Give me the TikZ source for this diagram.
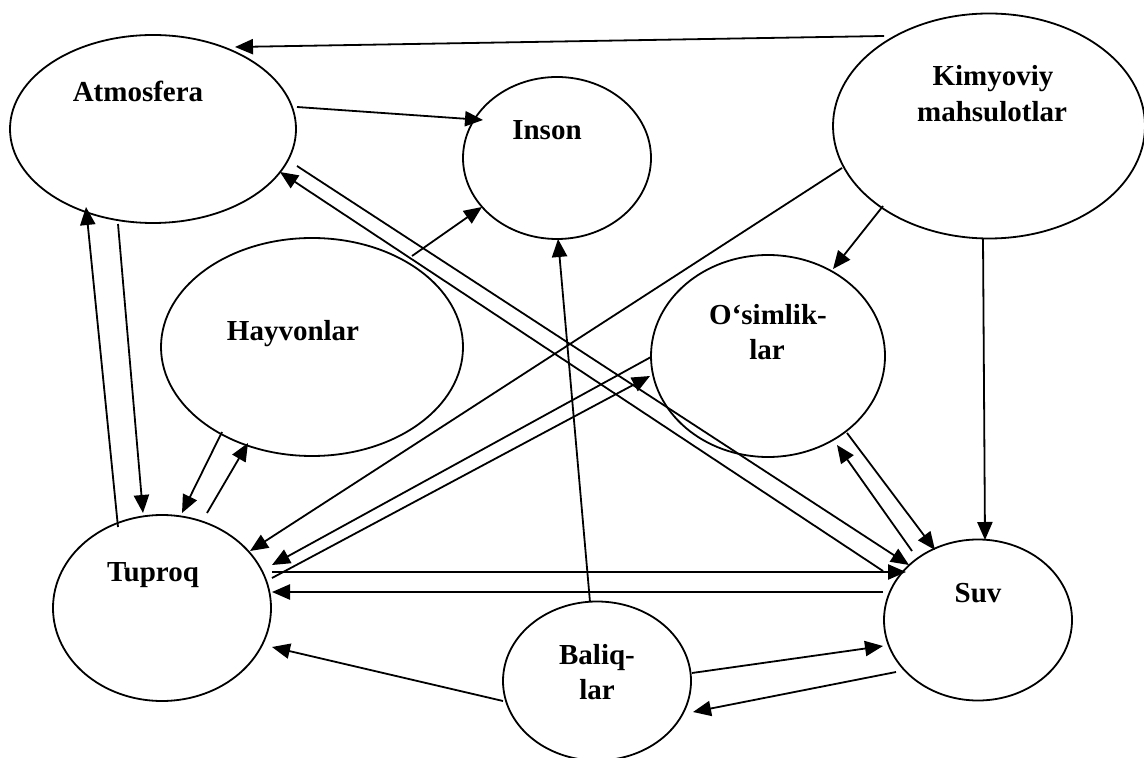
\documentclass[tikz,border=0pt]{standalone}
\usepackage{fontspec}
\setmainfont{Liberation Serif}
\usetikzlibrary{shapes.geometric,arrows.meta,calc}
\begin{document}
\begin{tikzpicture}[x=0.5pt,y=-0.5pt,
  ell/.style={ellipse,draw,line width=0.9pt,inner sep=0pt,outer sep=0pt},
  lbl/.style={anchor=base,inner sep=0pt,font=\fontsize{14.5}{17.7}\selectfont\bfseries},
  con/.style={line width=0.9pt,-{Triangle[length=9pt,width=7.6pt]}}]
\useasboundingbox (0,0) rectangle (1144,758);
% ellipses
\node[ell,minimum width=143pt,minimum height=94pt] (atm) at (153,129) {};
\node[ell,minimum width=94pt,minimum height=81pt] (ins) at (557,158) {};
\node[ell,minimum width=156pt,minimum height=112.5pt] (kim) at (989,126) {};
\node[ell,minimum width=151pt,minimum height=109pt] (hay) at (312,347) {};
\node[ell,minimum width=117pt,minimum height=101pt] (osi) at (768,356) {};
\node[ell,minimum width=109pt,minimum height=93pt] (tup) at (162,608) {};
\node[ell,minimum width=94pt,minimum height=79.5pt] (bal) at (597,681) {};
\node[ell,minimum width=94pt,minimum height=80.5pt] (suv) at (978,620) {};
% labels
\node[lbl] (tatm) at (138,101.7) {Atmosfera};
\node[lbl] (tins) at (547,140) {Inson};
\node[lbl] (tkim1) at (993,86) {Kimyoviy};
\node[lbl] (tkim2) at (992,121.7) {mahsulotlar};
\node[lbl] (thay) at (293,340.7) {Hayvonlar};
\node[lbl] (tosi1) at (768,324.3) {O‘simlik-};
\node[lbl] (tosi2) at (767,359.3) {lar};
\node[lbl] (ttup) at (153,581) {Tuproq};
\node[lbl] (tsuv) at (978,602.3) {Suv};
\node[lbl] (tbal1) at (597,664) {Baliq-};
\node[lbl] (tbal2) at (597,699.3) {lar};
% connectors
\draw[con] ($(kim)+(-105,-90)$) -- ($(atm)+(82,-82)$);
\draw[con] ($(atm)+(144,-22)$) -- ($(ins)+(-74,-38)$);
\draw[con] ($(atm)+(144,37)$) -- ($(suv)+(-69,-55)$);
\draw[con] ($(suv)+(-95,-49)$) -- ($(atm)+(127,43)$);
\draw[con] ($(osi)+(79,77)$) -- ($(suv)+(-43,-70)$);
\draw[con] ($(suv)+(-66,-69)$) -- ($(osi)+(69,89)$);
\draw[con] ($(kim)+(-6,113)$) -- ($(suv)+(7,-80)$);
\draw[con] ($(kim)+(-106,80)$) -- ($(osi)+(65,-87)$);
\draw[con] ($(kim)+(-147,42)$) -- ($(tup)+(88,-57)$);
\draw[con] ($(osi)+(-117,1)$) -- ($(tup)+(110,-43)$);
\draw[con] ($(tup)+(110,-30)$) -- ($(osi)+(-118,20)$);
\draw[con] ($(tup)+(110,-36)$) -- ($(suv)+(-72,-48)$);
\draw[con] ($(suv)+(-95,-28)$) -- ($(tup)+(110,-16)$);
\draw[con] ($(bal)+(-94,20)$) -- ($(tup)+(110,39)$);
\draw[con] ($(bal)+(95,-8)$) -- ($(suv)+(-95,26)$);
\draw[con] ($(suv)+(-82,52)$) -- ($(bal)+(96,31)$);
\draw[con] ($(bal)+(-7,-79)$) -- ($(ins)+(1,81)$);
\draw[con] ($(hay)+(100,-91)$) -- ($(ins)+(-75,49)$);
\draw[con] ($(hay)+(-90,85)$) -- ($(tup)+(20,-95)$);
\draw[con] ($(tup)+(45,-95)$) -- ($(hay)+(-64,96)$);
\draw[con] ($(tup)+(-44,-81)$) -- ($(atm)+(-67,78)$);
\draw[con] ($(atm)+(-35,95)$) -- ($(tup)+(-19,-95)$);
\end{tikzpicture}
\end{document}
